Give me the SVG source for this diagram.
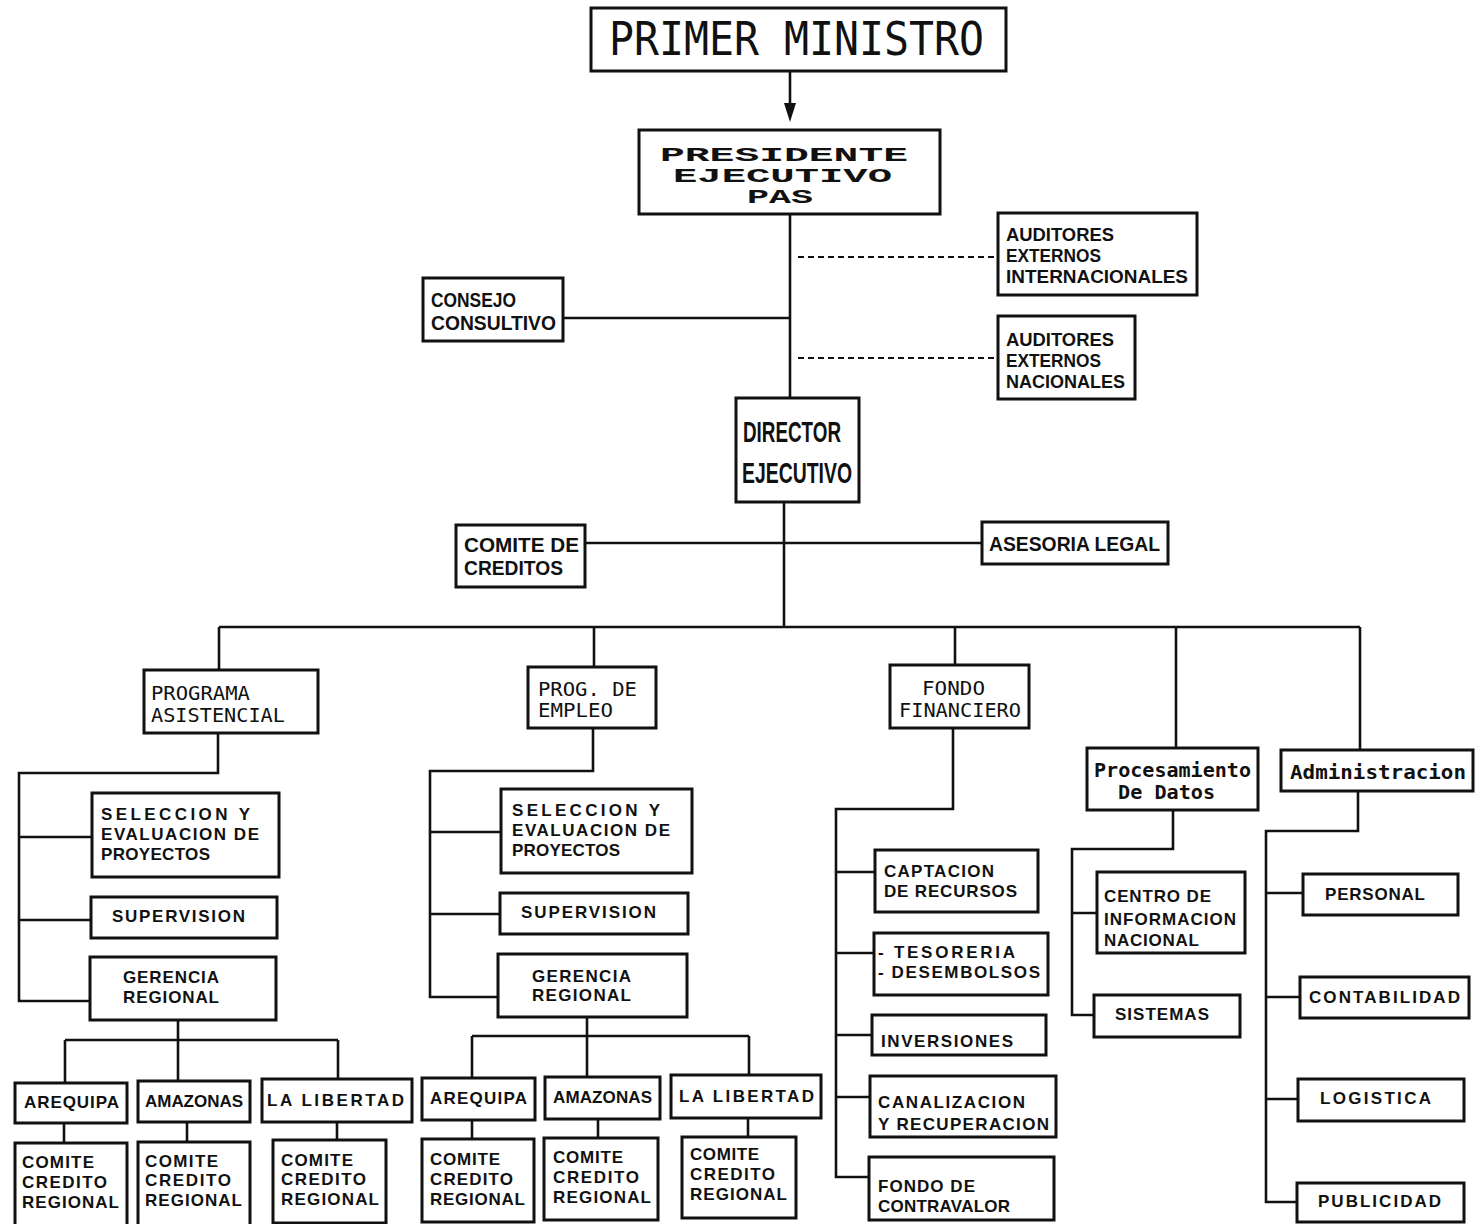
<svg xmlns="http://www.w3.org/2000/svg" width="1476" height="1224" viewBox="0 0 1476 1224">
<style>
.box{fill:#fff;stroke:#111;stroke-width:3}
.ln{fill:none;stroke:#111;stroke-width:2.6}
.dash{fill:none;stroke:#111;stroke-width:2.2;stroke-dasharray:6 4}
text{fill:#111}
.big{font-family:"DejaVu Sans Mono","Liberation Mono",monospace;font-size:46px}
.ser{font-family:"Liberation Mono","Courier New",monospace;font-size:21px;font-weight:bold}
.cnd{font-family:"Liberation Sans",Arial,sans-serif;font-size:18px;font-weight:bold}
.cnd2{font-family:"Liberation Sans",Arial,sans-serif;font-size:21px;font-weight:bold}
.dir{font-family:"Liberation Sans",Arial,sans-serif;font-size:30px;font-weight:bold}
.prg{font-family:"DejaVu Sans Mono","Liberation Mono",monospace;font-size:19px}
.blk{font-family:"Liberation Sans",Arial,sans-serif;font-size:17px;font-weight:bold}
.mix{font-family:"DejaVu Sans Mono","Liberation Mono",monospace;font-size:20px;font-weight:bold}
</style>
<rect width="1476" height="1224" fill="#fff"/>
<g id="connectors">
<line class="ln" x1="790" y1="71" x2="790" y2="106"/>
<polygon points="784,103 796,103 790,122" fill="#111"/>
<line class="ln" x1="790" y1="214" x2="790" y2="398"/>
<line class="ln" x1="563" y1="318" x2="790" y2="318"/>
<line class="dash" x1="798" y1="257" x2="996" y2="257"/>
<line class="dash" x1="798" y1="358" x2="996" y2="358"/>
<line class="ln" x1="784" y1="502" x2="784" y2="627"/>
<line class="ln" x1="585" y1="543" x2="982" y2="543"/>
<line class="ln" x1="219" y1="627" x2="1360" y2="627"/>
<line class="ln" x1="219" y1="627" x2="219" y2="670"/>
<line class="ln" x1="594" y1="627" x2="594" y2="667"/>
<line class="ln" x1="955" y1="627" x2="955" y2="665"/>
<line class="ln" x1="1176" y1="627" x2="1176" y2="748"/>
<line class="ln" x1="1360" y1="627" x2="1360" y2="750"/>
<path class="ln" d="M218,733 V773 H19 V1001 H90 M19,837 H92 M19,920 H91"/>
<path class="ln" d="M593,728 V771 H430 V997 H498 M430,832 H501 M430,914 H500"/>
<path class="ln" d="M178,1020 V1040 M65,1040 H338 M65,1040 V1083 M178,1040 V1081 M338,1040 V1079"/>
<path class="ln" d="M64,1123 V1143 M187,1122 V1142 M337,1122 V1140"/>
<path class="ln" d="M587,1017 V1036 M472,1036 H749 M472,1036 V1078 M587,1036 V1077 M749,1036 V1075"/>
<path class="ln" d="M472,1120 V1139 M598,1119 V1138 M748,1118 V1137"/>
<path class="ln" d="M953,728 V809 H836 V1177 H869 M836,872 H875 M836,953 H874 M836,1035 H872 M836,1097 H870"/>
<path class="ln" d="M1173,810 V849 H1072 V1015 H1094 M1072,913 H1097"/>
<path class="ln" d="M1358,791 V831 H1266 V1202 H1297 M1266,893 H1303 M1266,997 H1300 M1266,1099 H1298"/>
</g>
<g id="primer"><rect class="box" x="591" y="8" width="415" height="63"/><text class="big" x="609" y="55" textLength="375" lengthAdjust="spacingAndGlyphs">PRIMER MINISTRO</text></g>
<g id="presidente"><rect class="box" x="639" y="130" width="301" height="84"/>
<text class="ser" x="660" y="161" textLength="248" lengthAdjust="spacingAndGlyphs">PRESIDENTE</text>
<text class="ser" x="673" y="182" textLength="219" lengthAdjust="spacingAndGlyphs">EJECUTIVO</text>
<text class="ser" x="747" y="203" textLength="66" lengthAdjust="spacingAndGlyphs">PAS</text></g>
<g id="aud-int"><rect class="box" x="998" y="213" width="199" height="82"/>
<text class="cnd" x="1006" y="241" textLength="108" lengthAdjust="spacingAndGlyphs">AUDITORES</text>
<text class="cnd" x="1006" y="262" textLength="95" lengthAdjust="spacingAndGlyphs">EXTERNOS</text>
<text class="cnd" x="1006" y="283" textLength="182" lengthAdjust="spacingAndGlyphs">INTERNACIONALES</text></g>
<g id="consejo"><rect class="box" x="423" y="278" width="140" height="63"/>
<text class="cnd2" x="431" y="307" textLength="85" lengthAdjust="spacingAndGlyphs">CONSEJO</text>
<text class="cnd2" x="431" y="330" textLength="125" lengthAdjust="spacingAndGlyphs">CONSULTIVO</text></g>
<g id="aud-nac"><rect class="box" x="998" y="316" width="137" height="83"/>
<text class="cnd" x="1006" y="346" textLength="108" lengthAdjust="spacingAndGlyphs">AUDITORES</text>
<text class="cnd" x="1006" y="367" textLength="95" lengthAdjust="spacingAndGlyphs">EXTERNOS</text>
<text class="cnd" x="1006" y="388" textLength="119" lengthAdjust="spacingAndGlyphs">NACIONALES</text></g>
<g id="director"><rect class="box" x="736" y="398" width="123" height="104"/>
<text class="dir" x="743" y="442" textLength="98" lengthAdjust="spacingAndGlyphs">DIRECTOR</text>
<text class="dir" x="742" y="483" textLength="110" lengthAdjust="spacingAndGlyphs">EJECUTIVO</text></g>
<g id="comite-creditos"><rect class="box" x="456" y="525" width="129" height="62"/>
<text class="cnd2" x="464" y="552" textLength="115" lengthAdjust="spacingAndGlyphs">COMITE DE</text>
<text class="cnd2" x="464" y="575" textLength="99" lengthAdjust="spacingAndGlyphs">CREDITOS</text></g>
<g id="asesoria"><rect class="box" x="982" y="522" width="186" height="42"/>
<text class="cnd2" x="989" y="551" textLength="171" lengthAdjust="spacingAndGlyphs">ASESORIA LEGAL</text></g>
<g id="programa"><rect class="box" x="144" y="670" width="174" height="63"/>
<text class="prg" x="151" y="700" textLength="99" lengthAdjust="spacingAndGlyphs">PROGRAMA</text>
<text class="prg" x="151" y="722" textLength="134" lengthAdjust="spacingAndGlyphs">ASISTENCIAL</text></g>
<g id="prog-empleo"><rect class="box" x="528" y="667" width="128" height="61"/>
<text class="prg" x="538" y="696" textLength="99" lengthAdjust="spacingAndGlyphs">PROG. DE</text>
<text class="prg" x="538" y="717" textLength="75" lengthAdjust="spacingAndGlyphs">EMPLEO</text></g>
<g id="fondo-fin"><rect class="box" x="890" y="665" width="139" height="63"/>
<text class="prg" x="922" y="695" textLength="63" lengthAdjust="spacingAndGlyphs">FONDO</text>
<text class="prg" x="899" y="717" textLength="122" lengthAdjust="spacingAndGlyphs">FINANCIERO</text></g>
<g id="procesamiento"><rect class="box" x="1087" y="748" width="171" height="62"/>
<text class="mix" x="1094" y="777" textLength="157" lengthAdjust="spacingAndGlyphs">Procesamiento</text>
<text class="mix" x="1118" y="799" textLength="97" lengthAdjust="spacingAndGlyphs">De Datos</text></g>
<g id="administracion"><rect class="box" x="1281" y="750" width="192" height="41"/>
<text class="mix" x="1290" y="779" textLength="176" lengthAdjust="spacingAndGlyphs">Administracion</text></g>
<g id="seleccion1"><rect class="box" x="92" y="793" width="187" height="84"/>
<text class="blk" x="101" y="820" textLength="149">SELECCION Y</text>
<text class="blk" x="101" y="840" textLength="158">EVALUACION DE</text>
<text class="blk" x="101" y="860" textLength="109">PROYECTOS</text></g>
<g id="supervision1"><rect class="box" x="91" y="897" width="186" height="41"/>
<text class="blk" x="112" y="922" textLength="133">SUPERVISION</text></g>
<g id="gerencia1"><rect class="box" x="90" y="957" width="186" height="63"/>
<text class="blk" x="123" y="983" textLength="96">GERENCIA</text>
<text class="blk" x="123" y="1003" textLength="96">REGIONAL</text></g>
<g id="seleccion2"><rect class="box" x="501" y="789" width="191" height="84"/>
<text class="blk" x="512" y="816" textLength="148">SELECCION Y</text>
<text class="blk" x="512" y="836" textLength="158">EVALUACION DE</text>
<text class="blk" x="512" y="856" textLength="108">PROYECTOS</text></g>
<g id="supervision2"><rect class="box" x="500" y="893" width="188" height="41"/>
<text class="blk" x="521" y="918" textLength="135">SUPERVISION</text></g>
<g id="gerencia2"><rect class="box" x="498" y="954" width="189" height="63"/>
<text class="blk" x="532" y="982" textLength="99">GERENCIA</text>
<text class="blk" x="532" y="1001" textLength="99">REGIONAL</text></g>
<g id="arequipa1"><rect class="box" x="15" y="1083" width="112" height="40"/><text class="blk" x="24" y="1108" textLength="95">AREQUIPA</text></g>
<g id="amazonas1"><rect class="box" x="138" y="1081" width="112" height="41"/><text class="blk" x="145" y="1107" textLength="98">AMAZONAS</text></g>
<g id="libertad1"><rect class="box" x="262" y="1079" width="150" height="43"/><text class="blk" x="267" y="1106" textLength="137">LA LIBERTAD</text></g>
<g id="arequipa2"><rect class="box" x="422" y="1078" width="113" height="42"/><text class="blk" x="430" y="1104" textLength="97">AREQUIPA</text></g>
<g id="amazonas2"><rect class="box" x="545" y="1077" width="115" height="42"/><text class="blk" x="553" y="1103" textLength="99">AMAZONAS</text></g>
<g id="libertad2"><rect class="box" x="671" y="1075" width="150" height="43"/><text class="blk" x="679" y="1102" textLength="135">LA LIBERTAD</text></g>
<g id="comite1"><rect class="box" x="15" y="1143" width="112" height="84"/>
<text class="blk" x="22" y="1168" textLength="72">COMITE</text><text class="blk" x="22" y="1188" textLength="85">CREDITO</text><text class="blk" x="22" y="1208" textLength="97">REGIONAL</text></g>
<g id="comite2"><rect class="box" x="138" y="1142" width="112" height="85"/>
<text class="blk" x="145" y="1167" textLength="73">COMITE</text><text class="blk" x="145" y="1186" textLength="86">CREDITO</text><text class="blk" x="145" y="1206" textLength="97">REGIONAL</text></g>
<g id="comite3"><rect class="box" x="273" y="1140" width="113" height="83"/>
<text class="blk" x="281" y="1166" textLength="72">COMITE</text><text class="blk" x="281" y="1185" textLength="85">CREDITO</text><text class="blk" x="281" y="1205" textLength="98">REGIONAL</text></g>
<g id="comite4"><rect class="box" x="422" y="1139" width="112" height="83"/>
<text class="blk" x="430" y="1165" textLength="70">COMITE</text><text class="blk" x="430" y="1185" textLength="83">CREDITO</text><text class="blk" x="430" y="1205" textLength="95">REGIONAL</text></g>
<g id="comite5"><rect class="box" x="544" y="1138" width="114" height="82"/>
<text class="blk" x="553" y="1163" textLength="70">COMITE</text><text class="blk" x="553" y="1183" textLength="86">CREDITO</text><text class="blk" x="553" y="1203" textLength="98">REGIONAL</text></g>
<g id="comite6"><rect class="box" x="682" y="1137" width="114" height="81"/>
<text class="blk" x="690" y="1160" textLength="69">COMITE</text><text class="blk" x="690" y="1180" textLength="85">CREDITO</text><text class="blk" x="690" y="1200" textLength="97">REGIONAL</text></g>
<g id="captacion"><rect class="box" x="875" y="850" width="163" height="62"/>
<text class="blk" x="884" y="877" textLength="110">CAPTACION</text><text class="blk" x="884" y="897" textLength="133">DE RECURSOS</text></g>
<g id="tesoreria"><rect class="box" x="874" y="933" width="174" height="62"/>
<text class="blk" x="878" y="958" textLength="137">- TESORERIA</text><text class="blk" x="878" y="978" textLength="162">- DESEMBOLSOS</text></g>
<g id="inversiones"><rect class="box" x="872" y="1015" width="174" height="40"/>
<text class="blk" x="881" y="1047" textLength="132">INVERSIONES</text></g>
<g id="canalizacion"><rect class="box" x="870" y="1076" width="186" height="61"/>
<text class="blk" x="878" y="1108" textLength="147">CANALIZACION</text><text class="blk" x="878" y="1130" textLength="171">Y RECUPERACION</text></g>
<g id="fondo-contravalor"><rect class="box" x="869" y="1157" width="185" height="63"/>
<text class="blk" x="878" y="1192" textLength="97">FONDO DE</text><text class="blk" x="878" y="1212" textLength="132">CONTRAVALOR</text></g>
<g id="centro"><rect class="box" x="1097" y="872" width="148" height="81"/>
<text class="blk" x="1104" y="902" textLength="107">CENTRO DE</text><text class="blk" x="1104" y="925" textLength="132">INFORMACION</text><text class="blk" x="1104" y="946" textLength="95">NACIONAL</text></g>
<g id="sistemas"><rect class="box" x="1094" y="995" width="146" height="42"/>
<text class="blk" x="1115" y="1020" textLength="94">SISTEMAS</text></g>
<g id="personal"><rect class="box" x="1303" y="874" width="155" height="41"/>
<text class="blk" x="1325" y="900" textLength="100">PERSONAL</text></g>
<g id="contabilidad"><rect class="box" x="1300" y="977" width="169" height="41"/>
<text class="blk" x="1309" y="1003" textLength="151">CONTABILIDAD</text></g>
<g id="logistica"><rect class="box" x="1298" y="1079" width="166" height="42"/>
<text class="blk" x="1320" y="1104" textLength="111">LOGISTICA</text></g>
<g id="publicidad"><rect class="box" x="1297" y="1183" width="167" height="39"/>
<text class="blk" x="1318" y="1207" textLength="123">PUBLICIDAD</text></g>
</svg>
